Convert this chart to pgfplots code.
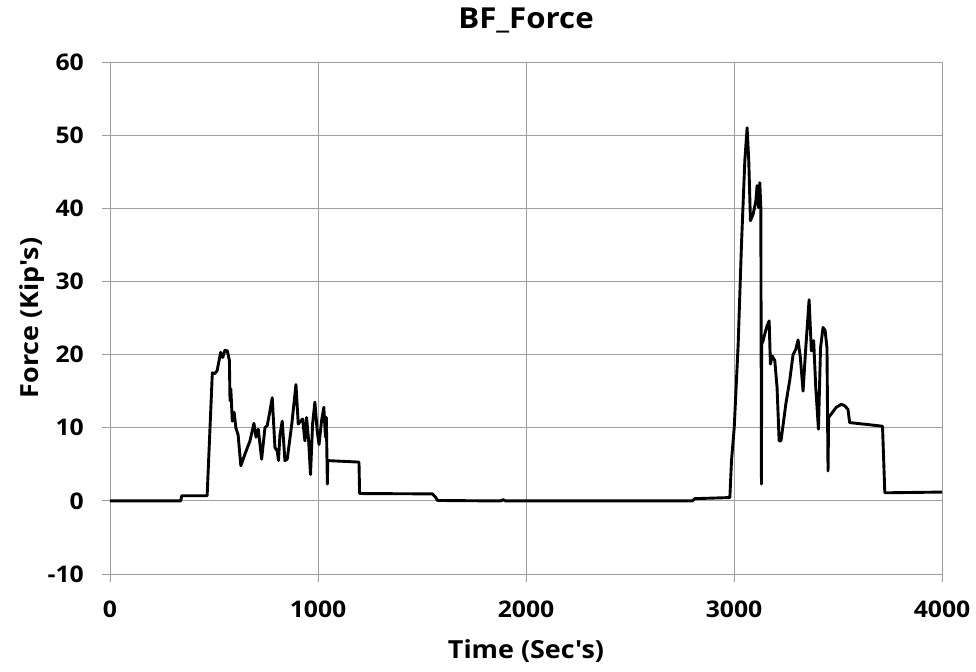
\documentclass[border=0pt]{standalone}
\usepackage{pgfplots}
\pgfplotsset{compat=1.18}
\usepackage{fontspec}
\setmainfont{Open Sans}[Ligatures=TeXOff, FakeStretch=1.08]
\begin{document}
\begin{tikzpicture}
\begin{axis}[
  scale only axis,
  width=832bp, height=512bp,
  xmin=0, xmax=4000, ymin=-10, ymax=60,
  xtick={0,1000,...,4000}, ytick={-10,0,...,60},
  grid=major,
  grid style={color=black!38, line width=0.8bp},
  axis line style={color=black!38, line width=0.8bp},
  tick style={color=black!38, line width=0.8bp},
  tick align=outside, xtick pos=bottom, ytick pos=left,
  major tick length=8bp,
  /pgf/number format/assume math mode=true,
  /pgf/number format/1000 sep={},
  ticklabel style={font=\bfseries\fontsize{23}{25}\selectfont, inner sep=0pt},
  xticklabel style={anchor=base, yshift=-36bp},
  yticklabel style={anchor=east, xshift=-18bp},
  title={BF\_Force},
  title style={font=\bfseries\fontsize{29}{31}\selectfont, at={(axis description cs:0.5,1.0742)}, anchor=base, inner sep=0pt, yshift=-10bp},
  xlabel={Time (Sec's)},
  ylabel={Force (Kip's)},
  xlabel style={font=\bfseries\fontsize{25}{28}\selectfont, at={(axis description cs:0.5,-0.166)}, anchor=base, inner sep=0pt},
  ylabel style={font=\bfseries\fontsize{25}{28}\selectfont, at={(axis description cs:-0.0865,0.5)}, anchor=base, inner sep=0pt},
]
\addplot[black, line width=2.9bp, line join=round] coordinates {
(0,0) (340,0) (345,0.7) (467,0.7) (492,17.5) (504,17.4) (515,17.8) (532,20.3)
(542,19.6) (553,20.6) (564,20.5) (574,19.2) (577,13.7) (581,15.3) (588,10.9)
(597,12.1) (605,10.0) (616,9.0) (629,4.8) (649,6.4) (673,8.2) (692,10.6)
(702,8.7) (713,9.8) (729,5.7) (745,10.0) (756,10.3) (769,12.3) (780,14.1)
(793,7.3) (804,6.8) (810,5.5) (817,9.0) (828,10.9) (841,5.5) (852,5.7)
(874,10.5) (894,15.9) (905,10.5) (916,10.9) (926,11.2) (937,8.2) (945,11.4)
(955,8.2) (964,3.6) (974,10.5) (985,13.5) (996,9.6) (1005,7.7) (1017,10.9)
(1028,12.8) (1036,8.7) (1040,11.4) (1045,2.3) (1047,5.5) (1197,5.3) (1200,1.0)
(1550,0.95) (1565,0.5) (1575,0.05) (1800,0) (1880,0) (1890,0.15) (1900,0)
(2800,0) (2812,0.3) (2980,0.45) (2988,5.5) (3001,10) (3020,21.4) (3036,35.1)
(3052,46.5) (3063,51.0) (3071,46.5) (3079,38.3) (3092,39.2) (3105,41.0)
(3111,43.1) (3118,40.1) (3124,43.5) (3129,40.1) (3132,2.3) (3133,21.4)
(3140,21.9) (3156,23.7) (3169,24.6) (3175,18.7) (3183,19.8) (3196,19.2)
(3207,15.5) (3217,8.2) (3226,8.2) (3249,13.2) (3268,16.5) (3284,20.0)
(3297,20.7) (3308,22.0) (3319,19.6) (3332,15.0) (3345,20.9) (3361,27.5)
(3372,20.5) (3383,21.9) (3393,15.5) (3406,9.8) (3416,20.9) (3428,23.7)
(3438,23.3) (3447,20.9) (3452,4.1) (3455,11.4) (3468,11.9) (3492,12.8)
(3516,13.2) (3532,13.0) (3548,12.5) (3556,10.7) (3588,10.6) (3653,10.4)
(3714,10.2) (3725,1.1) (4000,1.2)
};
\end{axis}
\pgfresetboundingbox
\path (current axis.south west) ++(-110bp,-98bp) coordinate (bbA);
\path (current axis.north east) ++(34bp,62bp) coordinate (bbB);
\useasboundingbox (bbA) rectangle (bbB);
\end{tikzpicture}
\end{document}
